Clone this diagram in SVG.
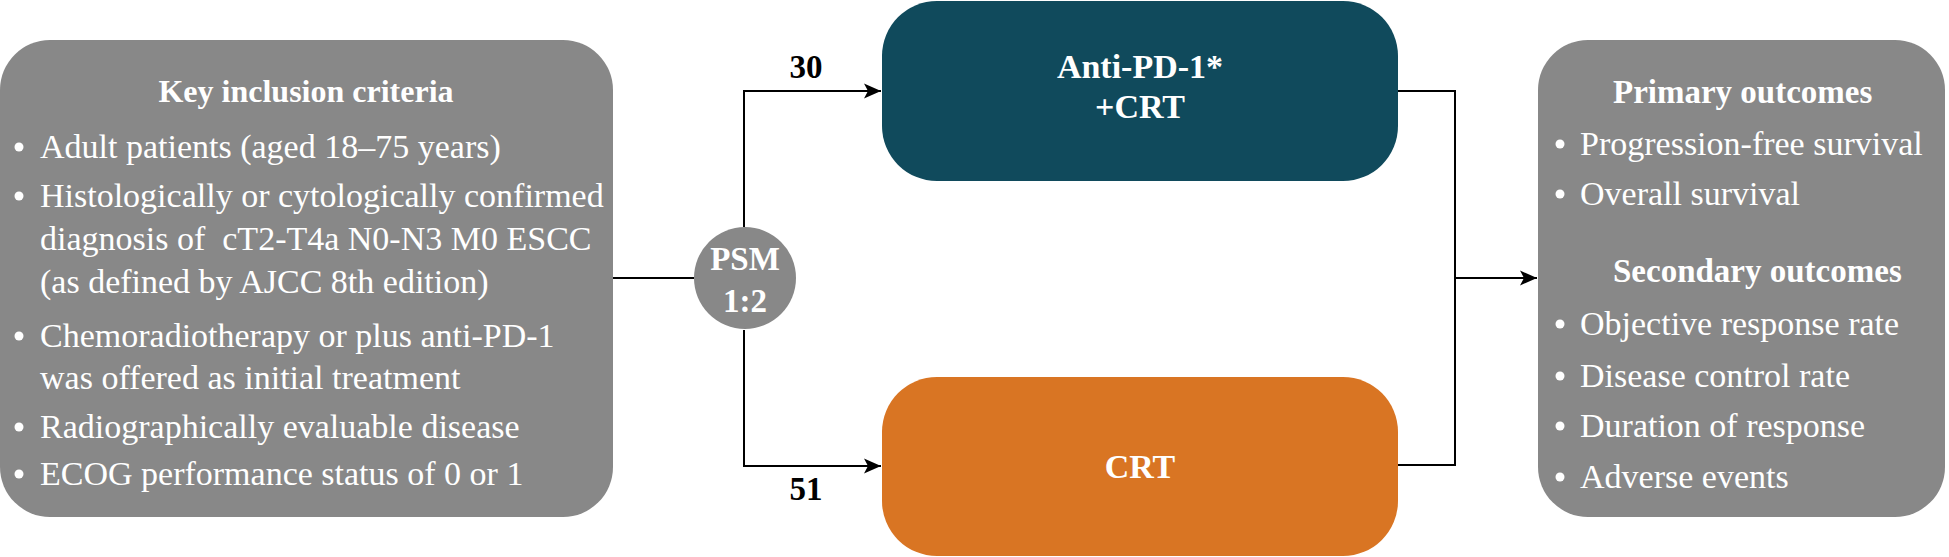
<svg xmlns="http://www.w3.org/2000/svg" width="1949" height="557" viewBox="0 0 1949 557">
<style>
.box{fill:#888888}
.t{font-family:"Liberation Serif","Times New Roman",serif;fill:#ffffff}
.b{font-weight:bold}
.body{font-size:34px}
.head{font-size:33px;font-weight:bold}
.num{font-family:"Liberation Serif","Times New Roman",serif;font-size:33px;font-weight:bold;fill:#000000}
.dot{fill:#ffffff}
.ln{fill:none;stroke:#000000;stroke-width:2}
</style>
<defs>
<marker id="arr" markerUnits="userSpaceOnUse" markerWidth="20" markerHeight="18" refX="17" refY="9" orient="auto">
<path d="M0,1.5 L17,9 L0,16.5 L4,9 Z" fill="#000000"/>
</marker>
</defs>
<g id="connectors">
<path class="ln" d="M613,278 H694"/>
<path class="ln" d="M744,227 V91 H881" marker-end="url(#arr)"/>
<path class="ln" d="M744,330 V466 H881" marker-end="url(#arr)"/>
<path class="ln" d="M1398,91 H1455 V465 H1398"/>
<path class="ln" d="M1455,278 H1537" marker-end="url(#arr)"/>
<text class="num" x="806" y="78" text-anchor="middle">30</text>
<text class="num" x="806" y="500" text-anchor="middle">51</text>
</g>
<g id="inclusion">
<rect class="box" x="0" y="40" width="613" height="477" rx="50" ry="50"/>
<text class="t head" font-size="32" x="306" y="102" text-anchor="middle" style="font-size:32px">Key inclusion criteria</text>
<circle class="dot" cx="19" cy="147" r="4.5"/>
<text class="t body" x="40" y="158">Adult patients (aged 18–75 years)</text>
<circle class="dot" cx="19" cy="196" r="4.5"/>
<text class="t body" x="40" y="207">Histologically or cytologically confirmed</text>
<text class="t body" x="40" y="250">diagnosis of&#160; cT2-T4a N0-N3 M0 ESCC</text>
<text class="t body" x="40" y="293">(as defined by AJCC 8th edition)</text>
<circle class="dot" cx="19" cy="336" r="4.5"/>
<text class="t body" x="40" y="347">Chemoradiotherapy or plus anti-PD-1</text>
<text class="t body" x="40" y="389">was offered as initial treatment</text>
<circle class="dot" cx="19" cy="427" r="4.5"/>
<text class="t body" x="40" y="438">Radiographically evaluable disease</text>
<circle class="dot" cx="19" cy="474" r="4.5"/>
<text class="t body" x="40" y="485">ECOG performance status of 0 or 1</text>
</g>
<g id="psm">
<circle class="box" cx="745" cy="278" r="51"/>
<text class="t head" x="745" y="270" text-anchor="middle">PSM</text>
<text class="t head" x="745" y="312" text-anchor="middle">1:2</text>
</g>
<g id="antipd1">
<rect x="882" y="1" width="516" height="180" rx="55" ry="55" fill="#104A5C"/>
<text class="t b" font-size="34" x="1140" y="78" text-anchor="middle">Anti-PD-1*</text>
<text class="t b" font-size="34" x="1140" y="118" text-anchor="middle">+CRT</text>
</g>
<g id="crt">
<rect x="882" y="377" width="516" height="179" rx="55" ry="55" fill="#D97523"/>
<text class="t b" font-size="34" x="1140" y="478" text-anchor="middle">CRT</text>
</g>
<g id="outcomes">
<rect class="box" x="1538" y="40" width="407" height="477" rx="50" ry="50"/>
<text class="t head" x="1613" y="103">Primary outcomes</text>
<circle class="dot" cx="1560" cy="144" r="4.5"/>
<text class="t body" x="1580" y="155">Progression-free survival</text>
<circle class="dot" cx="1560" cy="194" r="4.5"/>
<text class="t body" x="1580" y="205">Overall survival</text>
<text class="t head" x="1613" y="282">Secondary outcomes</text>
<circle class="dot" cx="1560" cy="324" r="4.5"/>
<text class="t body" x="1580" y="335">Objective response rate</text>
<circle class="dot" cx="1560" cy="376" r="4.5"/>
<text class="t body" x="1580" y="387">Disease control rate</text>
<circle class="dot" cx="1560" cy="426" r="4.5"/>
<text class="t body" x="1580" y="437">Duration of response</text>
<circle class="dot" cx="1560" cy="477" r="4.5"/>
<text class="t body" x="1580" y="488">Adverse events</text>
</g>
</svg>
